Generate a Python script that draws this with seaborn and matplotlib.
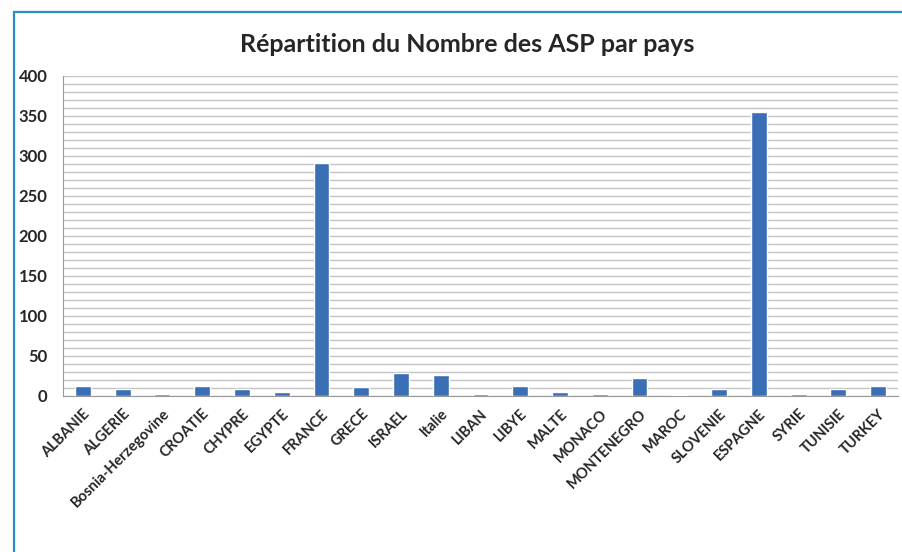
import matplotlib.pyplot as plt
import matplotlib.patches as patches
import matplotlib.transforms as mtransforms
import numpy as np
import pandas as pd
import seaborn as sns

# Data
pays = [
    "ALBANIE", "ALGERIE", "Bosnia-Herzegovine", "CROATIE", "CHYPRE",
    "EGYPTE", "FRANCE", "GRECE", "ISRAEL", "Italie", "LIBAN", "LIBYE",
    "MALTE", "MONACO", "MONTENEGRO", "MAROC", "SLOVENIE", "ESPAGNE",
    "SYRIE", "TUNISIE", "TURKEY",
]
nombre_asp = [
    12, 8, 2, 12, 8,
    4, 291, 11, 28, 26, 2, 12,
    5, 2, 22, 1, 8, 355,
    2, 8, 12,
]
y_ticks = [0, 50, 100, 150, 200, 250, 300, 350, 400]

df = pd.DataFrame({"pays": pays, "asp": nombre_asp})

sns.set_style("white")
plt.rcParams["font.family"] = ["Lato", "DejaVu Sans"]

fig = plt.figure(figsize=(9.02, 5.52), dpi=100)
ax = fig.add_axes([63 / 902, 1 - 395.5 / 552, 835 / 902, 320 / 552])

# blue frame around the chart
fig.patches.append(
    patches.Rectangle(
        (14 / 902, -0.05), 1.0, 1 - 12 / 552 + 0.05,
        transform=fig.transFigure, fill=False,
        edgecolor="#2a8fc0", linewidth=1.6,
    )
)

sns.barplot(
    data=df, x="pays", y="asp",
    color="#3a6fb6", width=0.4, saturation=1,
    ax=ax, zorder=3,
)

ax.set_ylim(0, 400)
ax.set_xlim(-0.5, len(pays) - 0.5)
ax.set_yticks(y_ticks)
ax.set_yticks(np.arange(0, 401, 10), minor=True)
ax.grid(axis="y", which="both", color="#c4c4c4", linewidth=1.0, zorder=0)

ax.set_xticks(range(len(pays)))
ax.set_xticklabels(pays, rotation=45, ha="right", va="top",
                   rotation_mode="anchor", fontsize=10.5, fontweight="bold")
shift = mtransforms.ScaledTranslation(11 / 100, 0, fig.dpi_scale_trans)
for lab in ax.get_xticklabels():
    lab.set_transform(lab.get_transform() + shift)
ax.set_xticks(np.arange(-0.5, len(pays), 1), minor=True)
ax.tick_params(axis="x", which="major", length=0, pad=8)
ax.tick_params(axis="x", which="minor", length=5, color="#999999", direction="out")
ax.tick_params(axis="y", which="major", length=4, color="#999999",
               direction="out", labelsize=12, pad=7)
ax.tick_params(axis="y", which="minor", length=0)
for lab in ax.get_yticklabels():
    lab.set_fontweight("bold")

for side in ["top", "right"]:
    ax.spines[side].set_visible(False)
for side in ["left", "bottom"]:
    ax.spines[side].set_color("#999999")

ax.set_xlabel("")
ax.set_ylabel("")

fig.text(467 / 902, 1 - 45 / 552, "Répartition du Nombre des ASP par pays",
         ha="center", va="center", fontsize=18, fontweight="bold")

fig.savefig("out.png", dpi=100)
